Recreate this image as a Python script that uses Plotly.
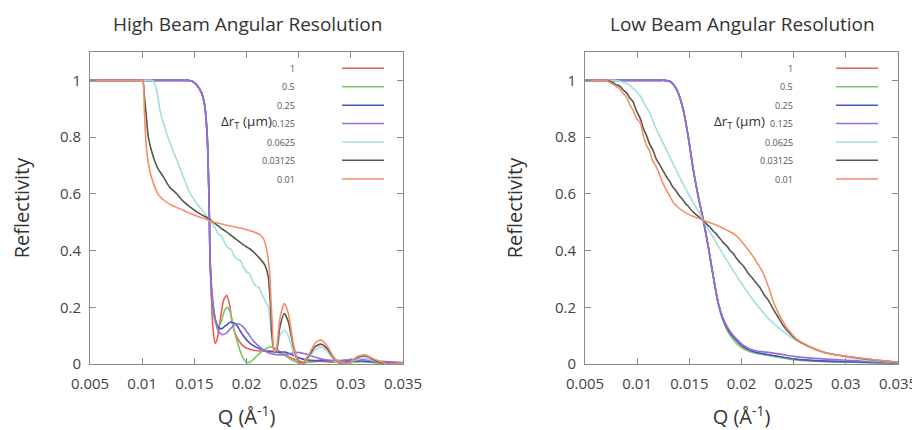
import plotly.graph_objects as go

# ---------------- data ----------------
series_labels = ["1", "0.5", "0.25", "0.125", "0.0625", "0.03125", "0.01"]
series_colors = ["#ee5c5c", "#7cc862", "#4657c4", "#9a6ddc", "#a3dede", "#56584c", "#f98c6c"]

x_tick_vals = [0.005, 0.01, 0.015, 0.02, 0.025, 0.03, 0.035]
x_tick_text = ["0.005", "0.01", "0.015", "0.02", "0.025", "0.03", "0.035"]
y_tick_vals = [0, 0.2, 0.4, 0.6, 0.8, 1]
y_tick_text = ["0", "0.2", "0.4", "0.6", "0.8", "1"]

titles = ["High Beam Angular Resolution", "Low Beam Angular Resolution"]
x_title = "Q (Å<sup>-1</sup>)"
y_title = "Reflectivity"
legend_title = "Δr<sub>T</sub> (μm)"

# ----- High beam angular resolution -----
hi_q_1 = [0.005, 0.0140, 0.0144, 0.0148, 0.0152, 0.0157, 0.0160, 0.01624, 0.01638, 0.01645, 0.0165,
          0.01665, 0.0168, 0.0170, 0.0172, 0.0175, 0.0178, 0.0181, 0.0184, 0.0186, 0.0189,
          0.0193, 0.0198, 0.0205, 0.0215, 0.0225, 0.0235, 0.0245, 0.0255, 0.027, 0.029,
          0.031, 0.033, 0.035]
hi_r_1 = [1, 1, 1, 0.997, 0.985, 0.955, 0.91, 0.80, 0.625, 0.50, 0.38,
          0.22, 0.12, 0.072, 0.09, 0.16, 0.225, 0.242, 0.205, 0.15, 0.11,
          0.08, 0.06, 0.05, 0.045, 0.045, 0.035, 0.018, 0.006, 0.01, 0.005,
          0.009, 0.004, 0.003]

hi_q_05 = [0.005, 0.0140, 0.0144, 0.0148, 0.0152, 0.0157, 0.0160, 0.01624, 0.01638, 0.01645, 0.0165,
           0.0167, 0.0170, 0.0173, 0.0176, 0.0179, 0.0182, 0.0185, 0.0188, 0.0191, 0.0194,
           0.0197, 0.0200, 0.0204, 0.0209, 0.0215, 0.0222, 0.0228, 0.0235, 0.0243, 0.0252,
           0.0262, 0.0272, 0.0283, 0.0295, 0.0310, 0.0325, 0.035]
hi_r_05 = [1, 1, 1, 0.997, 0.985, 0.955, 0.91, 0.80, 0.625, 0.50, 0.38,
           0.22, 0.15, 0.13, 0.15, 0.19, 0.20, 0.175, 0.12, 0.08, 0.045,
           0.02, 0.005, 0.008, 0.025, 0.045, 0.06, 0.055, 0.035, 0.015, 0.002,
           0.008, 0.015, 0.008, 0.002, 0.01, 0.004, 0.002]

hi_q_025 = [0.005, 0.0140, 0.0144, 0.0148, 0.0152, 0.0157, 0.0160, 0.01624, 0.01638, 0.01645, 0.0165,
            0.0167, 0.0170, 0.0173, 0.0176, 0.0180, 0.0185, 0.0190, 0.0195, 0.0200, 0.0205,
            0.0212, 0.0220, 0.0230, 0.0237, 0.0245, 0.0253, 0.0265, 0.028, 0.030, 0.032, 0.035]
hi_r_025 = [1, 1, 1, 0.997, 0.985, 0.955, 0.91, 0.80, 0.625, 0.50, 0.38,
            0.24, 0.16, 0.13, 0.124, 0.135, 0.148, 0.14, 0.11, 0.085, 0.068,
            0.055, 0.045, 0.042, 0.042, 0.03, 0.018, 0.012, 0.012, 0.011, 0.008, 0.004]

hi_q_0125 = [0.005, 0.0140, 0.0144, 0.0148, 0.0152, 0.0157, 0.0160, 0.01624, 0.01638, 0.01645, 0.0165,
             0.0167, 0.0170, 0.0173, 0.0177, 0.0181, 0.0186, 0.0192, 0.0197, 0.0202, 0.0207,
             0.0212, 0.0218, 0.0225, 0.0233, 0.0241, 0.0249, 0.0257, 0.0266, 0.0277, 0.0287,
             0.0300, 0.0310, 0.0325, 0.035]
hi_r_0125 = [1, 1, 1, 0.997, 0.985, 0.955, 0.91, 0.80, 0.625, 0.50, 0.38,
             0.25, 0.16, 0.115, 0.103, 0.11, 0.13, 0.142, 0.13, 0.105, 0.08,
             0.062, 0.045, 0.035, 0.032, 0.036, 0.041, 0.035, 0.024, 0.014, 0.012,
             0.016, 0.016, 0.01, 0.005]

hi_q_00625 = [0.005, 0.0106, 0.0110, 0.01139, 0.0117, 0.01203, 0.01267, 0.01331, 0.01394, 0.01458, 0.01523,
              0.0158, 0.01634, 0.0167, 0.0170, 0.0173, 0.0176, 0.0179, 0.0182, 0.0185, 0.0188,
              0.0191, 0.0194, 0.0197, 0.0200, 0.0203, 0.0206, 0.0209, 0.0212, 0.0215, 0.0218,
              0.0221, 0.0224, 0.02257, 0.0227, 0.0229, 0.0232, 0.02365, 0.0240, 0.0245, 0.0250,
              0.0254, 0.0260, 0.0266, 0.02714, 0.0277, 0.0285, 0.0292, 0.0300, 0.0307, 0.0314,
              0.0322, 0.0333, 0.035]
hi_r_00625 = [1, 1, 1, 0.967, 0.896, 0.85, 0.779, 0.72, 0.66, 0.602, 0.566,
              0.54, 0.515, 0.495, 0.48, 0.458, 0.452, 0.428, 0.41, 0.405, 0.382,
              0.37, 0.365, 0.342, 0.325, 0.318, 0.292, 0.275, 0.27, 0.245, 0.222,
              0.2, 0.1, 0.05, 0.04, 0.05, 0.1, 0.12, 0.1, 0.04, 0.005,
              0.002, 0.025, 0.05, 0.06, 0.045, 0.01, 0.0, 0.008, 0.018, 0.02,
              0.012, 0.0, 0.003]

hi_q_003125 = [0.005, 0.0097, 0.01005, 0.0102, 0.01043, 0.01059, 0.01107, 0.0115, 0.01203, 0.0126, 0.01331,
               0.0139, 0.01458, 0.0155, 0.01634, 0.0170, 0.0177, 0.0183, 0.0189, 0.0197, 0.0205,
               0.0212, 0.02177, 0.02209, 0.0222, 0.02232, 0.0224, 0.02257, 0.0227, 0.0229, 0.0232,
               0.02362, 0.0240, 0.0245, 0.0250, 0.0254, 0.0260, 0.0266, 0.02714, 0.0277, 0.0285,
               0.0293, 0.0300, 0.0307, 0.0314, 0.0322, 0.0333, 0.035]
hi_r_003125 = [1, 1, 1, 0.95, 0.861, 0.80, 0.73, 0.69, 0.66, 0.625, 0.60,
               0.575, 0.554, 0.53, 0.513, 0.495, 0.475, 0.46, 0.443, 0.42, 0.401,
               0.375, 0.348, 0.307, 0.26, 0.19, 0.12, 0.06, 0.04, 0.05, 0.13,
               0.178, 0.15, 0.06, 0.005, 0.002, 0.03, 0.062, 0.07, 0.055, 0.015,
               0.0, 0.01, 0.024, 0.028, 0.015, 0.0, 0.004]

hi_q_001 = [0.005, 0.0097, 0.01005, 0.0102, 0.01035, 0.0105, 0.0108, 0.0111, 0.0115, 0.0120, 0.0127,
            0.0137, 0.0145, 0.0155, 0.01634, 0.0172, 0.0180, 0.0189, 0.0197, 0.0205, 0.0212,
            0.02165, 0.02195, 0.0222, 0.02235, 0.0225, 0.02257, 0.02273, 0.0229, 0.0232, 0.02362,
            0.0240, 0.0245, 0.0250, 0.02529, 0.0260, 0.0266, 0.02714, 0.0277, 0.0285, 0.02944,
            0.0300, 0.0307, 0.03136, 0.0322, 0.0335, 0.035]
hi_r_001 = [1, 1, 1, 0.9, 0.79, 0.73, 0.67, 0.635, 0.60, 0.58, 0.562,
            0.546, 0.532, 0.518, 0.507, 0.497, 0.49, 0.483, 0.477, 0.468, 0.458,
            0.44, 0.40, 0.33, 0.225, 0.12, 0.06, 0.042, 0.06, 0.16, 0.213,
            0.18, 0.07, 0.005, 0.0, 0.035, 0.075, 0.085, 0.065, 0.018, 0.0,
            0.01, 0.027, 0.032, 0.018, 0.0, 0.004]

# ----- Low beam angular resolution -----
lo_q_1 = [0.005, 0.0122, 0.0126, 0.0132, 0.01379, 0.01442, 0.0149, 0.01538, 0.01586, 0.01634, 0.01682,
          0.0173, 0.01778, 0.0182, 0.01858, 0.0190, 0.01954, 0.0201, 0.02081, 0.0215, 0.02273,
          0.0240, 0.0250, 0.0270, 0.0300, 0.035]
lo_r_1 = [1, 1, 1, 0.995, 0.967, 0.896, 0.80, 0.684, 0.59, 0.507, 0.413,
          0.307, 0.213, 0.16, 0.13, 0.104, 0.082, 0.062, 0.046, 0.039, 0.031,
          0.023, 0.017, 0.011, 0.007, 0.003]

lo_q_05 = [0.005, 0.0122, 0.0126, 0.0132, 0.01379, 0.01442, 0.0149, 0.01538, 0.01586, 0.01634, 0.01682,
           0.0173, 0.01778, 0.0182, 0.01858, 0.0190, 0.01954, 0.0201, 0.02081, 0.0215, 0.0227,
           0.0240, 0.0250, 0.0270, 0.0300, 0.035]
lo_r_05 = [1, 1, 1, 0.995, 0.967, 0.896, 0.80, 0.684, 0.59, 0.507, 0.413,
           0.307, 0.21, 0.155, 0.122, 0.096, 0.072, 0.055, 0.043, 0.037, 0.029,
           0.021, 0.015, 0.01, 0.006, 0.003]

lo_q_025 = [0.005, 0.0122, 0.0126, 0.0132, 0.01379, 0.01442, 0.0149, 0.01538, 0.01586, 0.01634, 0.01682,
            0.0173, 0.01778, 0.0182, 0.01858, 0.0190, 0.01954, 0.0201, 0.02081, 0.0215, 0.02273,
            0.0240, 0.0250, 0.0270, 0.0300, 0.035]
lo_r_025 = [1, 1, 1, 0.995, 0.967, 0.896, 0.80, 0.684, 0.59, 0.507, 0.413,
            0.307, 0.213, 0.16, 0.13, 0.105, 0.083, 0.063, 0.048, 0.04, 0.032,
            0.024, 0.018, 0.012, 0.008, 0.004]

lo_q_0125 = [0.005, 0.0122, 0.0126, 0.0132, 0.01379, 0.01442, 0.0149, 0.01538, 0.01586, 0.01634, 0.01682,
             0.0173, 0.01778, 0.0182, 0.01858, 0.0190, 0.01954, 0.0201, 0.02081, 0.0215, 0.02273,
             0.0240, 0.0250, 0.0270, 0.0300, 0.035]
lo_r_0125 = [1, 1, 1, 0.995, 0.967, 0.896, 0.80, 0.684, 0.59, 0.507, 0.413,
             0.307, 0.215, 0.165, 0.135, 0.11, 0.088, 0.068, 0.053, 0.046, 0.04,
             0.033, 0.027, 0.02, 0.013, 0.005]

lo_q_00625 = [0.005, 0.0073, 0.0077, 0.0085, 0.0092, 0.0098, 0.0103, 0.0108, 0.0112, 0.0117, 0.0122,
              0.01346, 0.01475, 0.01634, 0.01794, 0.01954, 0.02113, 0.02273, 0.0238, 0.0245, 0.0254,
              0.0263, 0.0275, 0.0286, 0.0300, 0.0318, 0.035]
lo_r_00625 = [1, 1, 1, 0.995, 0.985, 0.965, 0.945, 0.91, 0.885, 0.84, 0.80,
              0.705, 0.61, 0.507, 0.405, 0.31, 0.225, 0.155, 0.12, 0.1, 0.08,
              0.065, 0.048, 0.035, 0.025, 0.014, 0.005]

lo_q_003125 = [0.005, 0.0066, 0.0070, 0.0075, 0.0080, 0.0084, 0.00865, 0.0090, 0.0093, 0.0096, 0.0099,
               0.0103, 0.0106, 0.0109, 0.0112, 0.0115, 0.0118, 0.0122, 0.0125, 0.0128, 0.0131,
               0.0134, 0.0137, 0.0140, 0.0143, 0.0146, 0.0149, 0.0152, 0.0155, 0.0158, 0.01634,
               0.0167, 0.0170, 0.0173, 0.0176, 0.0179, 0.01825, 0.0186, 0.0189, 0.0192, 0.0195,
               0.01985, 0.0202, 0.0206, 0.0210, 0.02145, 0.0218, 0.02215, 0.02256, 0.0231, 0.0236,
               0.0241, 0.0247, 0.0253, 0.0262, 0.0270, 0.0280, 0.0295, 0.0318, 0.035]
lo_r_003125 = [1, 1, 1, 0.995, 0.985, 0.978, 0.967, 0.955, 0.938, 0.925, 0.895,
               0.865, 0.83, 0.805, 0.775, 0.755, 0.725, 0.70, 0.68, 0.66, 0.645,
               0.625, 0.612, 0.595, 0.583, 0.567, 0.556, 0.542, 0.532, 0.522, 0.507,
               0.492, 0.482, 0.468, 0.458, 0.444, 0.428, 0.416, 0.40, 0.39, 0.374,
               0.358, 0.345, 0.322, 0.305, 0.284, 0.268, 0.245, 0.225, 0.19, 0.16,
               0.13, 0.105, 0.085, 0.066, 0.053, 0.04, 0.03, 0.018, 0.006]

lo_q_001 = [0.005, 0.0066, 0.0070, 0.0075, 0.0080, 0.0083, 0.00865, 0.0090, 0.0093, 0.0096, 0.0099,
            0.0103, 0.0106, 0.0109, 0.0112, 0.0115, 0.0118, 0.0121, 0.0124, 0.0127, 0.0130,
            0.0135, 0.0140, 0.01475, 0.0155, 0.01634, 0.0172, 0.01794, 0.0186, 0.01921, 0.0197,
            0.02017, 0.0205, 0.0208, 0.02113, 0.0214, 0.0217, 0.02209, 0.0224, 0.0227, 0.0230,
            0.0234, 0.0239, 0.0244, 0.0253, 0.0262, 0.0270, 0.0280, 0.0295, 0.0310, 0.0325, 0.035]
lo_r_001 = [1, 1, 1, 0.99, 0.979, 0.972, 0.955, 0.94, 0.914, 0.895, 0.868,
            0.85, 0.805, 0.77, 0.75, 0.715, 0.698, 0.672, 0.643, 0.62, 0.60,
            0.568, 0.55, 0.531, 0.518, 0.507, 0.495, 0.484, 0.472, 0.46, 0.445,
            0.425, 0.41, 0.395, 0.378, 0.362, 0.345, 0.319, 0.29, 0.26, 0.225,
            0.19, 0.155, 0.125, 0.088, 0.068, 0.053, 0.04, 0.03, 0.022, 0.016, 0.006]

high_q = [hi_q_1, hi_q_05, hi_q_025, hi_q_0125, hi_q_00625, hi_q_003125, hi_q_001]
high_r = [hi_r_1, hi_r_05, hi_r_025, hi_r_0125, hi_r_00625, hi_r_003125, hi_r_001]
low_q = [lo_q_1, lo_q_05, lo_q_025, lo_q_0125, lo_q_00625, lo_q_003125, lo_q_001]
low_r = [lo_r_1, lo_r_05, lo_r_025, lo_r_0125, lo_r_00625, lo_r_003125, lo_r_001]

# ---------------- figure ----------------
PAGE_OFFSET = 8   # default page body margin shifts the figure by this many px
W, H = 920 - PAGE_OFFSET, 430 - PAGE_OFFSET   # so the figure ends exactly at the window edge
FONT = "Open Sans, DejaVu Sans, sans-serif"


def px(x):
    return (x - PAGE_OFFSET) / W


def py(y):
    return 1 - (y - PAGE_OFFSET) / H


fig = go.Figure()

for qs, rs, xa, ya in [(high_q, high_r, "x", "y"), (low_q, low_r, "x2", "y2")]:
    for i in range(len(series_labels)):
        fig.add_trace(go.Scatter(
            x=qs[i], y=rs[i], mode="lines", xaxis=xa, yaxis=ya,
            name=series_labels[i], showlegend=False,
            line=dict(color=series_colors[i], width=1.6, shape="spline", smoothing=0.6),
        ))

axis_common = dict(
    showline=True, linecolor="#8a8a8a", linewidth=1, mirror="ticks",
    ticks="inside", ticklen=6, tickcolor="#8a8a8a", tickwidth=1,
    showgrid=False, zeroline=False, automargin=False,
    tickfont=dict(family=FONT, size=15, color="#444444"),
)
title_font = dict(family=FONT, size=20, color="#333333")

y_dom = [py(364), py(52)]
fig.update_layout(
    width=W, height=H,
    margin=dict(l=0, r=0, t=0, b=0, autoexpand=False),
    paper_bgcolor="white", plot_bgcolor="white",
    xaxis=dict(domain=[px(90), px(403)], range=[0.005, 0.035], anchor="y",
               tickvals=x_tick_vals, ticktext=x_tick_text, ticklabelstandoff=6,
               title=dict(text=x_title, font=title_font, standoff=19), **axis_common),
    yaxis=dict(domain=y_dom, range=[0, 1.1], anchor="x",
               tickvals=y_tick_vals, ticktext=y_tick_text, ticklabelstandoff=5,
               title=dict(text=y_title, font=title_font, standoff=26), **axis_common),
    xaxis2=dict(domain=[px(585), px(898)], range=[0.005, 0.035], anchor="y2",
                tickvals=x_tick_vals, ticktext=x_tick_text, ticklabelstandoff=6,
                title=dict(text=x_title, font=title_font, standoff=19), **axis_common),
    yaxis2=dict(domain=y_dom, range=[0, 1.1], anchor="x2",
                tickvals=y_tick_vals, ticktext=y_tick_text, ticklabelstandoff=5,
                title=dict(text=y_title, font=title_font, standoff=26), **axis_common),
)

annotations = []
shapes = []
panels = [
    dict(title_x=247, lab_right=297, line_x0=342, line_x1=384, dr_right=274),
    dict(title_x=742, lab_right=795, line_x0=836, line_x1=878, dr_right=767),
]
row_y = [68.3, 86.8, 105.2, 123.5, 142.0, 160.3, 179.0]

for p, title in zip(panels, titles):
    annotations.append(dict(text=title, x=px(p["title_x"]), y=py(24), xref="paper", yref="paper",
                            showarrow=False, xanchor="center", yanchor="middle",
                            font=dict(family=FONT, size=19, color="#333333")))
    annotations.append(dict(text=legend_title, x=px(p["dr_right"]), y=py(122), xref="paper", yref="paper",
                            showarrow=False, xanchor="right", yanchor="middle",
                            font=dict(family=FONT, size=13.5, color="#333333")))
    for i, lab in enumerate(series_labels):
        annotations.append(dict(text=lab, x=px(p["lab_right"]), y=py(row_y[i]), xref="paper", yref="paper",
                                showarrow=False, xanchor="right", yanchor="middle",
                                font=dict(family=FONT, size=9, color="#555555")))
        shapes.append(dict(type="line", xref="paper", yref="paper",
                           x0=px(p["line_x0"]), x1=px(p["line_x1"]),
                           y0=py(row_y[i]), y1=py(row_y[i]),
                           line=dict(color=series_colors[i], width=1.6)))

fig.update_layout(annotations=annotations, shapes=shapes)

fig.write_html("out.html")
